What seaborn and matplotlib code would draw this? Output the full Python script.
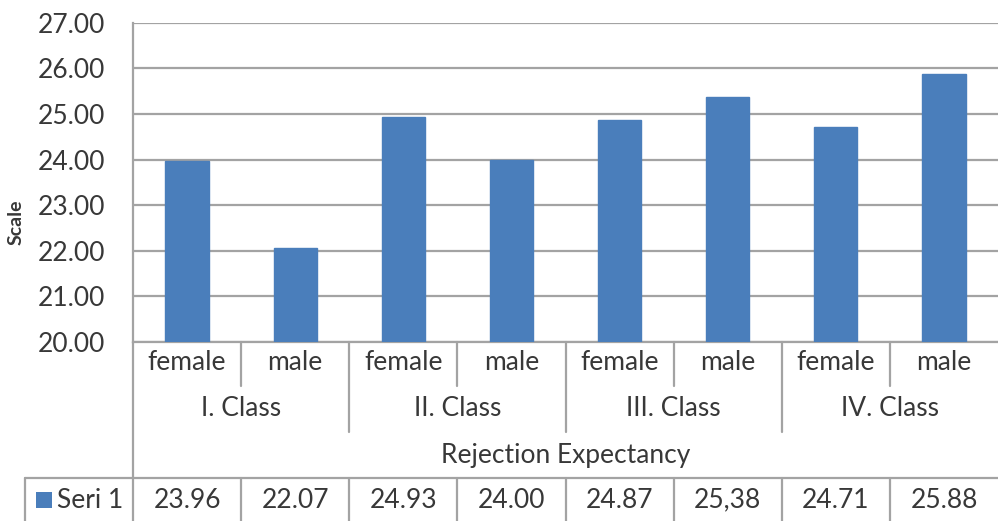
import matplotlib
matplotlib.use("Agg")
import matplotlib.pyplot as plt
import matplotlib.transforms as mtransforms
from matplotlib.patches import Rectangle
import seaborn as sns
import pandas as pd

# ---- data ----
classes = ["I. Class", "II. Class", "III. Class", "IV. Class"]
genders = ["female", "male"]
values = [23.96, 22.07, 24.93, 24.00, 24.87, 25.38, 24.71, 25.88]
value_labels = ["23.96", "22.07", "24.93", "24.00", "24.87", "25,38", "24.71", "25.88"]
series_name = "Seri 1"
axis_title = "Rejection Expectancy"
y_label = "Scale"
y_ticks = [20, 21, 22, 23, 24, 25, 26, 27]

keys = [f"{c}|{g}" for c in classes for g in genders]
df = pd.DataFrame({"key": keys, "value": values})

sns.set_theme(style="white")
plt.rcParams["font.family"] = ["Lato", "DejaVu Sans"]

W, H = 998, 521
fig = plt.figure(figsize=(W / 100, H / 100), dpi=100)
y_top_px, y_bot_px = 22.7, 342.0
ax = fig.add_axes([133 / W, 1 - y_bot_px / H, (W - 133) / W, (y_bot_px - y_top_px) / H])

BAR = "#4a7ebb"
GRID = "#a3a3a3"
TXT = "#383838"
FS = 19

sns.barplot(data=df, x="key", y="value", order=keys, color=BAR, width=0.4,
            saturation=1, ax=ax, zorder=3, edgecolor=BAR)
ax.set_ylim(20, 27)
ax.set_xlim(-0.5, len(keys) - 0.5)
ax.set_yticks(y_ticks)
ax.set_yticklabels([f"{t:.2f}" for t in y_ticks], fontsize=FS, color=TXT)
ax.tick_params(axis="y", length=0, pad=20)
ax.set_xticks([])
ax.set_xlabel("")
ax.set_ylabel("")
ax.yaxis.grid(True, color=GRID, linewidth=1.6)
ax.set_axisbelow(True)
for s in ["top", "right"]:
    ax.spines[s].set_visible(False)
for s in ["left", "bottom"]:
    ax.spines[s].set_color(GRID)
    ax.spines[s].set_linewidth(1.6)

span = y_bot_px - y_top_px
def ay(py):
    return (y_bot_px - py) / span

tr = mtransforms.blended_transform_factory(ax.transData, ax.transAxes)

def vline(x, y0, y1):
    ax.plot([x, x], [ay(y0), ay(y1)], transform=tr, color=GRID, lw=1.6, clip_on=False, zorder=1)

n = len(keys)
# left axis extension
vline(-0.5, y_bot_px, H + 5)
# gender dividers
for i in range(len(classes)):
    vline(2 * i + 0.5, y_bot_px, 386)
# class dividers
for i in range(1, len(classes)):
    vline(2 * i - 0.5, y_bot_px, 432)
# table
table_top = 478
ax.plot([-1.5, n - 0.5], [ay(table_top), ay(table_top)], transform=tr, color=GRID, lw=1.6,
        clip_on=False)
vline(-1.5, table_top, H + 5)
for i in range(1, n):
    vline(i - 0.5, table_top, H + 5)

# labels
for i, k in enumerate(keys):
    ax.text(i, ay(362), k.split("|")[1], transform=tr, ha="center", va="center",
            fontsize=FS, color=TXT)
    ax.text(i, ay(500), value_labels[i], transform=tr, ha="center", va="center",
            fontsize=FS, color=TXT)
for i, c in enumerate(classes):
    ax.text(2 * i + 0.5, ay(408), c, transform=tr, ha="center", va="center",
            fontsize=FS, color=TXT)
ax.text((n - 1) / 2, ay(455), axis_title, transform=tr, ha="center", va="center",
        fontsize=FS, color=TXT)

# legend key in table
x0 = -0.5 + (36 - 133) / 108.1
x1 = -0.5 + (52 - 133) / 108.1
ax.add_patch(Rectangle((x0, ay(508)), x1 - x0, ay(492) - ay(508), transform=tr,
                       facecolor=BAR, edgecolor="none", clip_on=False))
ax.text(-0.5 + (57 - 133) / 108.1, ay(500), series_name, transform=tr, ha="left",
        va="center", fontsize=FS, color=TXT)

fig.text(16 / W, 1 - 222 / H, y_label, rotation=90, ha="center", va="center",
         fontsize=14, color=TXT, fontweight="bold")

fig.savefig("out.png", dpi=100)
